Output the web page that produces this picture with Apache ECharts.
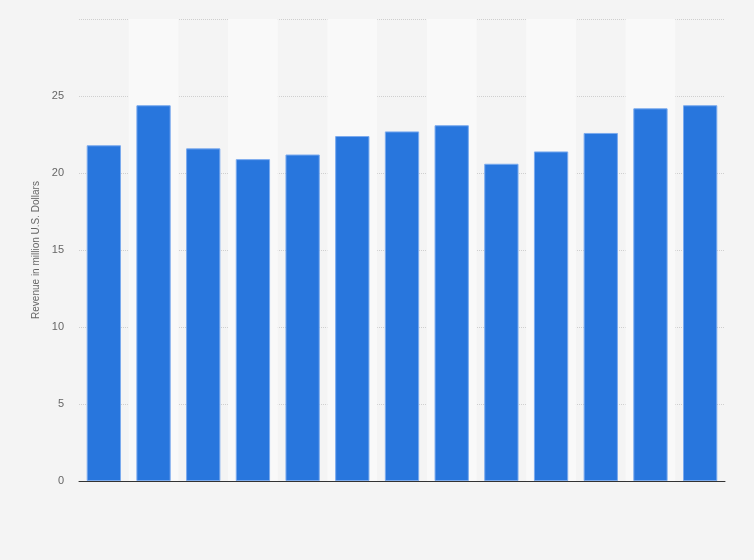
<!DOCTYPE html>
<html>
<head>
<meta charset="utf-8">
<script src="https://cdn.jsdelivr.net/npm/echarts@6/dist/echarts.min.js"></script>
<style>
  html, body { margin: 0; padding: 0; background: #f4f4f4; }
  #chart { width: 754px; height: 560px; }
</style>
</head>
<body>
<div id="chart"></div>
<script>
const chart = echarts.init(document.getElementById('chart'));

// one bar per period, no labels shown on the x axis
const categories = ['1', '2', '3', '4', '5', '6', '7', '8', '9', '10', '11', '12', '13'];
const revenue = [21.8, 24.4, 21.6, 20.9, 21.2, 22.4, 22.7, 23.1, 20.6, 21.4, 22.6, 24.2, 24.4];
const yTicks = [0, 5, 10, 15, 20, 25, 30];

const option = {
    backgroundColor: '#f4f4f4',
    animation: false,
    grid: {left: 79, right: 29, top: 19, bottom: 79},
    xAxis: {
        type: 'category',
        data: categories,
        axisLine: {lineStyle: {color: '#333', width: 1}},
        axisTick: {show: false},
        axisLabel: {show: false},
        splitArea: {
            show: true,
            areaStyle: {color: ['rgba(0,0,0,0)', '#f9f9f9']},
        },
    },
    yAxis: {
        type: 'value',
        min: yTicks[0],
        max: yTicks[yTicks.length - 1],
        interval: 5,
        name: 'Revenue in million U.S. Dollars',
        nameLocation: 'middle',
        nameGap: 36,
        nameTextStyle: {color: '#666', fontSize: 10, fontFamily: 'Arial, Liberation Sans'},
        axisLine: {show: false},
        axisTick: {show: false},
        axisLabel: {
            color: '#666',
            fontSize: 11,
            margin: 15,
            fontFamily: 'Arial, Liberation Sans',
            formatter: (v) => (v === 30 ? '' : v),
        },
        splitLine: {lineStyle: {color: '#cfcfcf', type: 'dotted'}},
    },
    series: [
        {
            type: 'bar',
            data: revenue,
            barWidth: '69%',
            itemStyle: {color: '#2876dd', borderColor: '#7aaaee', borderWidth: 1},
        },
    ],
};

chart.setOption(option);
</script>
</body>
</html>
